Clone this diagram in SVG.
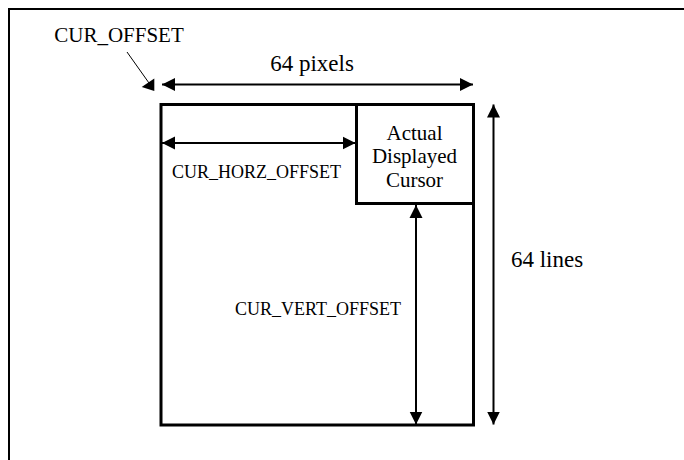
<svg xmlns="http://www.w3.org/2000/svg" width="684" height="460" viewBox="0 0 684 460" font-family="'Liberation Serif', 'Times New Roman', Times, serif">
<style>
.t{font-family:'Liberation Serif', 'Times New Roman', Times, serif;fill:#000}
.frame{fill:none;stroke:#000;stroke-width:2}
.box{fill:none;stroke:#000;stroke-width:3}
.conn{fill:none;stroke:#000;stroke-width:2}
.lead{fill:none;stroke:#000;stroke-width:1}
</style>
<defs>
<marker id="ah" markerUnits="userSpaceOnUse" markerWidth="14" markerHeight="14" viewBox="0 0 14 14" refX="13" refY="7" orient="auto-start-reverse">
<path d="M0,0.5 L13,7 L0,13.5 Z" fill="#000"/>
</marker>
</defs>
<rect width="684" height="460" fill="#fff"/>
<path class="frame" d="M9,460 V9 H684"/>
<g id="main">
<rect class="box" x="161" y="104.5" width="312.5" height="320.5"/>
</g>
<g id="cursor">
<rect class="box" x="356.5" y="104.5" width="117" height="99"/>
<text class="t" x="414.5" y="140" font-size="21" text-anchor="middle">Actual</text>
<text class="t" x="414.5" y="163.4" font-size="21" text-anchor="middle">Displayed</text>
<text class="t" x="414.5" y="186.8" font-size="21" text-anchor="middle">Cursor</text>
</g>
<g id="labels">
<text class="t" x="119" y="42" font-size="21" text-anchor="middle">CUR_OFFSET</text>
<text class="t" x="312" y="71" font-size="23" text-anchor="middle">64 pixels</text>
<text class="t" x="256.5" y="178" font-size="18" text-anchor="middle">CUR_HORZ_OFFSET</text>
<text class="t" x="318" y="315" font-size="18" text-anchor="middle">CUR_VERT_OFFSET</text>
<text class="t" x="547" y="267" font-size="23" text-anchor="middle">64 lines</text>
</g>
<g id="connectors">
<line class="lead" x1="127" y1="52" x2="149" y2="83"/>
<polygon points="141.7,87 154.3,78.5 154.3,91" fill="#000"/>
<line class="conn" x1="162" y1="84.5" x2="473" y2="84.5" marker-start="url(#ah)" marker-end="url(#ah)"/>
<line class="conn" x1="162" y1="143" x2="355.5" y2="143" marker-start="url(#ah)" marker-end="url(#ah)"/>
<line class="conn" x1="416" y1="205" x2="416" y2="424.5" marker-start="url(#ah)" marker-end="url(#ah)"/>
<line class="conn" x1="493.5" y1="104.5" x2="493.5" y2="424.5" marker-start="url(#ah)" marker-end="url(#ah)"/>
</g>
</svg>
